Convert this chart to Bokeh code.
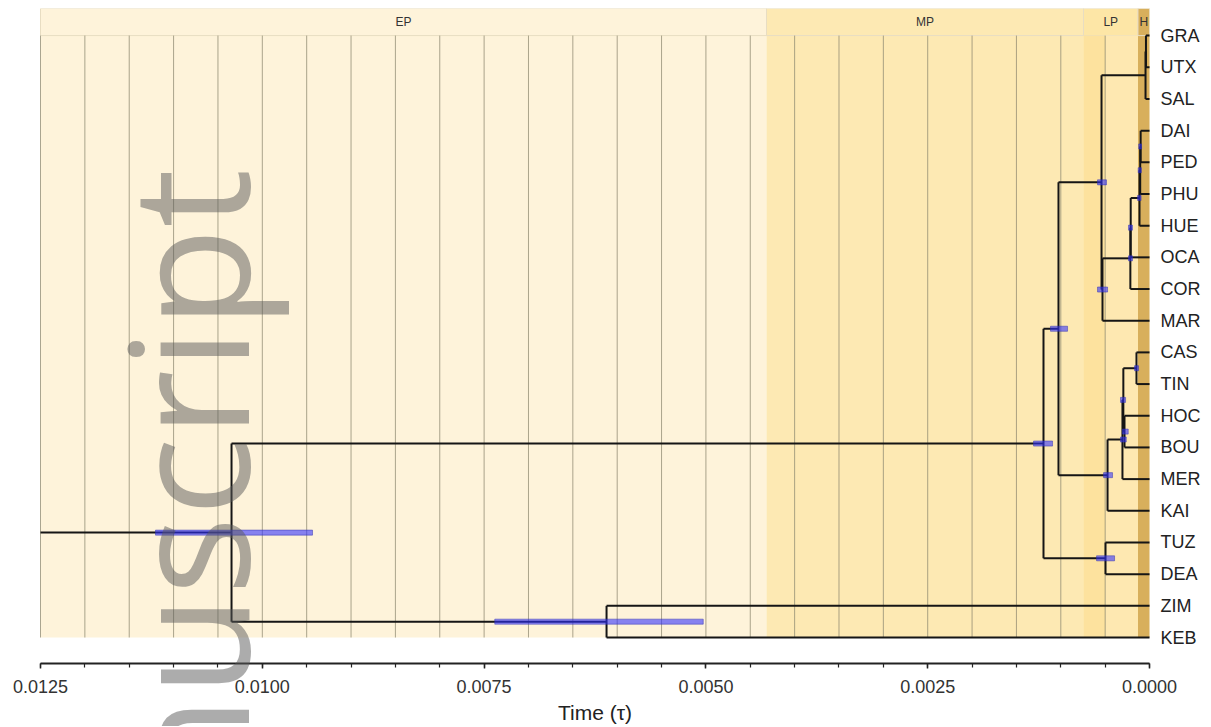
import math
from bokeh.plotting import figure
from bokeh.models import Range1d, LinearAxis, FixedTicker, NumeralTickFormatter, Label
from bokeh.embed import file_html
from bokeh.resources import INLINE
from bokeh.core.properties import value

# ---------------- data ----------------
leaves = ["GRA", "UTX", "SAL", "DAI", "PED", "PHU", "HUE", "OCA", "COR", "MAR",
          "CAS", "TIN", "HOC", "BOU", "MER", "KAI", "TUZ", "DEA", "ZIM", "KEB"]
leaf_age = [0.0] * len(leaves)

node_names = ["n_GU", "n_GUS", "n_DP", "n_DPP", "n_F", "n_G", "n_E", "n_D", "n_C",
              "n_M", "n_N", "n_L", "n_K", "n_J", "n_B", "n_TD", "n_A", "n_ZK", "root"]
node_children = [["GRA", "UTX"], ["n_GU", "SAL"], ["DAI", "PED"], ["n_DP", "PHU"],
                 ["n_DPP", "HUE"], ["n_F", "OCA"], ["n_G", "COR"], ["n_E", "MAR"],
                 ["n_GUS", "n_D"], ["CAS", "TIN"], ["HOC", "BOU"], ["n_M", "n_N"],
                 ["n_L", "MER"], ["n_K", "KAI"], ["n_C", "n_J"], ["TUZ", "DEA"],
                 ["n_B", "n_TD"], ["ZIM", "KEB"], ["n_A", "n_ZK"]]
node_age = [0.00004, 0.000045, 0.0001, 0.000105, 0.000113, 0.000212, 0.000216, 0.00053, 0.000541,
            0.000147, 0.000282, 0.000295, 0.000305, 0.000473, 0.001026, 0.000496, 0.001195,
            0.00612, 0.010347]
hpd_low = [None, None, 0.00009, 0.000092, 0.000095, 0.000192, 0.000192, 0.000473, 0.000485,
           0.000124, 0.000240, 0.00027, 0.000262, 0.000417, 0.000924, 0.000394, 0.001093,
           0.00503, 0.009434]
hpd_high = [None, None, 0.000122, 0.000128, 0.000135, 0.000237, 0.000237, 0.000586, 0.000586,
            0.000169, 0.000306, 0.000327, 0.000327, 0.000518, 0.001116, 0.000597, 0.001307,
            0.00738, 0.011204]

epoch_names = ["EP", "MP", "LP", "H"]
epoch_old = [0.0125, 0.004317, 0.000744, 0.00013]
epoch_young = [0.004317, 0.000744, 0.00013, 0.0]
epoch_colors = ["#FEF3DA", "#FDE9B3", "#FDE6A6", "#D8AF5C"]

x_ticks = [0.0125, 0.0100, 0.0075, 0.0050, 0.0025, 0.0]
t_old, t_young = 0.0125, 0.0

# ---------------- layout of tree ----------------
n_leaf = len(leaves)
ypos = {name: float(n_leaf - 1 - i) for i, name in enumerate(leaves)}
xpos = {name: a for name, a in zip(leaves, leaf_age)}
for name, ch, a in zip(node_names, node_children, node_age):
    ys = [ypos[c] for c in ch]
    ypos[name] = (min(ys) + max(ys)) / 2.0
    xpos[name] = a

sx0, sy0, sx1, sy1 = [], [], [], []
for name, ch in zip(node_names, node_children):
    ys = [ypos[c] for c in ch]
    sx0.append(xpos[name]); sx1.append(xpos[name]); sy0.append(min(ys)); sy1.append(max(ys))
    for c in ch:
        sx0.append(xpos[name]); sx1.append(xpos[c]); sy0.append(ypos[c]); sy1.append(ypos[c])
# root stem
sx0.append(t_old); sx1.append(xpos["root"]); sy0.append(ypos["root"]); sy1.append(ypos["root"])

tree_top = ypos[leaves[0]]
y_lo, y_hi = -2.809, 19.855
axis_y = -0.821
x_lo, x_hi = 0.012951, -0.000631   # frame spans the whole canvas width

p = figure(width=1205, height=726, output_backend="svg", toolbar_location=None,
           x_range=Range1d(x_lo, x_hi), y_range=Range1d(y_lo, y_hi),
           min_border_left=0, min_border_right=0, min_border_top=8, min_border_bottom=0)
p.outline_line_color = None
p.xgrid.visible = False
p.ygrid.visible = False
p.yaxis.visible = False
p.background_fill_color = "white"
p.border_fill_color = "white"

# epoch bands (body + header)
p.quad(left=epoch_old, right=epoch_young, bottom=0, top=tree_top, fill_color=epoch_colors,
       line_color=None)
p.quad(left=epoch_old, right=epoch_young, bottom=tree_top, top=y_hi, fill_color=epoch_colors,
       line_color="#E8DDC2", line_width=1)
# sub-shading in LP
p.quad(left=[epoch_old[2]], right=[0.0005], bottom=0, top=tree_top, fill_color="#FDE29E",
       line_color=None)
p.quad(left=[0.0005], right=[epoch_young[2]], bottom=0, top=tree_top, fill_color="#FEE8B1",
       line_color=None)

# vertical grid lines
gx = [k * 0.0005 for k in range(1, 26)]
p.segment(x0=gx, y0=0, x1=gx, y1=tree_top, line_color="#8E8870", line_alpha=0.75, line_width=1)

# header labels
p.text(x=[(a + b) / 2 for a, b in zip(epoch_old, epoch_young)], y=(tree_top + y_hi) / 2,
       text=epoch_names, text_font=value("Liberation Sans"), text_font_size="12px",
       text_align="center", text_baseline="middle", text_color="#333333")

# tree
p.segment(x0=sx0, y0=sy0, x1=sx1, y1=sy1, line_color="#151515", line_width=2)

# HPD bars
hl = [l for l in hpd_low if l is not None]
hh = [h for h in hpd_high if h is not None]
hy = [ypos[n] for n, l in zip(node_names, hpd_low) if l is not None]
p.quad(left=hh, right=hl, bottom=[y - 0.08 for y in hy], top=[y + 0.08 for y in hy],
       fill_color="#2F2FFF", fill_alpha=0.58, line_color="#3030B0", line_alpha=0.6, line_width=0.8)

# axis line limited to the time span
p.segment(x0=[t_old], y0=[axis_y], x1=[t_young], y1=[axis_y], line_color="#222222", line_width=2)

# x axis, fixed inside the frame
ax = p.xaxis[0]
ax.fixed_location = axis_y
ax.ticker = FixedTicker(ticks=x_ticks, minor_ticks=[k * 0.0005 for k in range(26)])
ax.formatter = NumeralTickFormatter(format="0.0000")
ax.axis_line_color = None
ax.major_tick_line_color = "#222222"
ax.minor_tick_line_color = "#222222"
ax.major_tick_line_width = 1.5
ax.minor_tick_line_width = 1.2
ax.major_tick_in = 0
ax.major_tick_out = 5
ax.minor_tick_in = 0
ax.minor_tick_out = 4
ax.major_label_text_font = "Liberation Sans"
ax.major_label_text_font_size = "18px"
ax.major_label_text_color = "#333333"
ax.major_label_standoff = 11

# leaf labels on a right axis fixed at time 0
ra = LinearAxis(ticker=FixedTicker(ticks=[ypos[n] for n in leaves]),
                major_label_overrides={ypos[n]: n for n in leaves})
ra.fixed_location = t_young
ra.axis_line_color = None
ra.major_tick_line_color = None
ra.minor_tick_line_color = None
ra.major_tick_in = 0
ra.major_tick_out = 0
ra.major_label_text_font = "Liberation Sans"
ra.major_label_text_font_size = "18px"
ra.major_label_text_color = "#222222"
ra.major_label_standoff = 11
p.add_layout(ra, "right")

# axis title
p.add_layout(Label(x=(t_old + t_young) / 2, y=-2.367, text="Time (τ)", text_font="Liberation Sans",
                   text_font_size="21px", text_color="#222222", text_align="center",
                   text_baseline="middle"))

# watermark
p.add_layout(Label(x=0.010866, y=-12.63, text="Manuscript", angle=math.pi / 2,
                   text_font="Open Sans", text_font_size="165px", text_color="#5A5A5A",
                   text_alpha=0.5, text_align="left", text_baseline="alphabetic"))

open("out.html", "w").write(file_html(p, INLINE))
